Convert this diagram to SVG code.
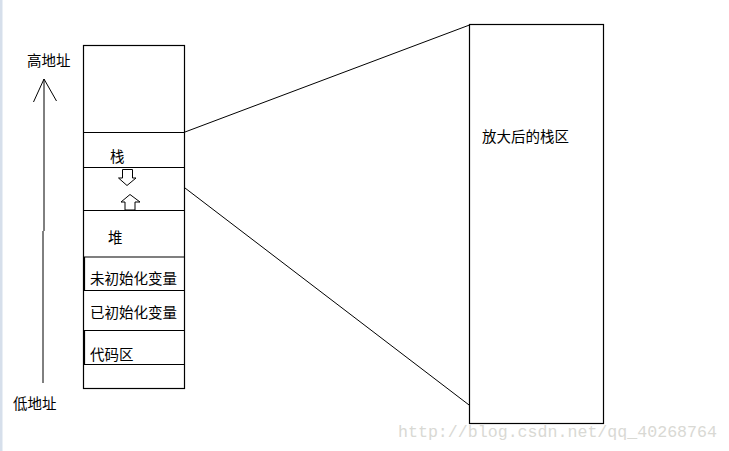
<svg xmlns="http://www.w3.org/2000/svg" width="729" height="451" viewBox="0 0 729 451">
<style>
.ln{stroke:#000;stroke-width:1;fill:none}
.bx{stroke:#000;stroke-width:1.2;fill:#fff}
.t{font-family:"Noto Sans CJK SC","Noto Sans",sans-serif;font-size:14.5px;fill:#000}
.wm{font-family:"Liberation Mono",monospace;font-size:16.5px;fill:#d9d9d4}
</style>
<rect x="0" y="0" width="729" height="451" fill="#fff"/>
<rect x="0" y="0" width="2.5" height="451" fill="#d6dfeb"/>
<g id="connectors">
<line class="ln" x1="44" y1="79" x2="44" y2="231"/>
<line class="ln" x1="43" y1="231" x2="43" y2="383"/>
<polyline class="ln" points="33.5,102 44,79 56.5,101"/>
<line class="ln" x1="185" y1="132" x2="469.5" y2="25"/>
<line class="ln" x1="185" y1="188" x2="473" y2="408"/>
</g>
<g id="memory">
<rect class="bx" x="83.5" y="45.5" width="101" height="343"/>
<line class="bx" x1="83.5" y1="132.5" x2="184.5" y2="132.5"/>
<line class="bx" x1="83.5" y1="167.5" x2="184.5" y2="167.5"/>
<line class="bx" x1="83.5" y1="210.5" x2="184.5" y2="210.5"/>
<line class="bx" x1="83.5" y1="257" x2="184.5" y2="257"/>
<line class="bx" x1="84.5" y1="257" x2="84.5" y2="290"/>
<line class="bx" x1="83.5" y1="290.5" x2="184.5" y2="290.5"/>
<line class="bx" x1="83.5" y1="330.5" x2="184.5" y2="330.5"/>
<line class="bx" x1="84.5" y1="330.5" x2="84.5" y2="364"/>
<line class="bx" x1="83.5" y1="364.5" x2="184.5" y2="364.5"/>
</g>
<g id="down-arrow">
<polygon class="ln" points="122.5,169.5 132.5,169.5 132.5,178 136,178 127,185.5 118.5,178 122.5,178"/>
</g>
<g id="up-arrow">
<polygon class="ln" points="130,194.5 140,202 135,202 135,210 125,210 125,202 121,202"/>
</g>
<g id="labels">
<text class="t" x="27" y="66">高地址</text>
<text class="t" x="13" y="409">低地址</text>
<text class="t" x="110" y="162">栈</text>
<text class="t" x="108" y="243">堆</text>
<text class="t" x="90" y="284">未初始化变量</text>
<text class="t" x="90" y="318">已初始化变量</text>
<text class="t" x="90" y="360">代码区</text>
</g>
<g id="zoomed-stack">
<rect class="bx" x="469.5" y="24.5" width="134" height="399"/>
<text class="t" x="482" y="142">放大后的栈区</text>
</g>
<text class="wm" x="398" y="437" textLength="319" lengthAdjust="spacingAndGlyphs">http://blog.csdn.net/qq_40268764</text>
</svg>
